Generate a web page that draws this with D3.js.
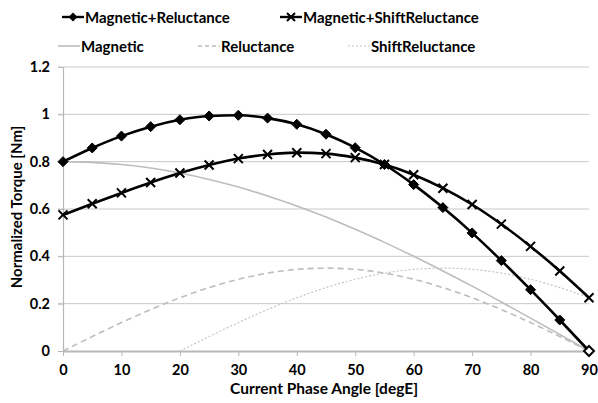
<!DOCTYPE html>
<html>
<head>
<meta charset="utf-8">
<script src="https://cdn.jsdelivr.net/npm/d3@7"></script>
<style>
  html, body { margin: 0; padding: 0; background: #fff; }
  svg text { font-family: Lato, "Open Sans", sans-serif; font-weight: bold; fill: #000; }
</style>
</head>
<body>
<svg id="chart" width="598" height="403"></svg>
<script>
// Current phase angle [degE]
const angles = [0, 5, 10, 15, 20, 25, 30, 35, 40, 45, 50, 55, 60, 65, 70, 75, 80, 85, 90];

// Normalized torque components [Nm]
const magnetic = [0.800, 0.797, 0.788, 0.773, 0.752, 0.725, 0.693, 0.655, 0.613, 0.566,
                  0.514, 0.459, 0.400, 0.338, 0.274, 0.207, 0.139, 0.070, 0.000];
const reluctance = [0.000, 0.061, 0.120, 0.175, 0.225, 0.268, 0.303, 0.329, 0.345, 0.350,
                    0.345, 0.329, 0.303, 0.268, 0.225, 0.175, 0.120, 0.061, 0.000];
// shifted reluctance is only plotted from 20 degE onwards
const shiftAngles = [20, 25, 30, 35, 40, 45, 50, 55, 60, 65, 70, 75, 80, 85, 90];
const shiftReluctance = [0.000, 0.061, 0.120, 0.175, 0.225, 0.268, 0.303, 0.329, 0.345, 0.350,
                         0.345, 0.329, 0.303, 0.268, 0.225];
const magPlusRel = [0.800, 0.858, 0.908, 0.948, 0.977, 0.993, 0.996, 0.984, 0.958, 0.916,
                    0.859, 0.788, 0.703, 0.606, 0.499, 0.382, 0.259, 0.131, 0.000];
const magPlusShift = [0.575, 0.622, 0.668, 0.712, 0.752, 0.786, 0.813, 0.830, 0.838, 0.834,
                      0.817, 0.788, 0.745, 0.688, 0.619, 0.536, 0.442, 0.338, 0.225];

const xTicks = [0, 10, 20, 30, 40, 50, 60, 70, 80, 90];
const yTicks = [0, 0.2, 0.4, 0.6, 0.8, 1, 1.2];

const svg = d3.select("#chart");
const plotLeft = 63, plotRight = 589, plotTop = 67, plotBottom = 351;

const x = d3.scaleLinear().domain([0, 90]).range([plotLeft, plotRight]);
const y = d3.scaleLinear().domain([0, 1.2]).range([plotBottom, plotTop]);

// horizontal gridlines
svg.append("g").selectAll("line").data(yTicks.filter(d => d > 0)).join("line")
  .attr("x1", plotLeft - 5).attr("x2", plotRight)
  .attr("y1", d => y(d)).attr("y2", d => y(d))
  .attr("stroke", "#c8c8c8").attr("stroke-width", 1);

// y axis
const yAxis = svg.append("g").attr("transform", `translate(${plotLeft},0)`)
  .call(d3.axisLeft(y).tickValues(yTicks).tickSize(5).tickSizeOuter(0)
        .tickFormat(d => d3.format("~g")(d)));
yAxis.select(".domain").attr("stroke", "#b8b8b8").attr("stroke-width", 1.2);
yAxis.selectAll(".tick line").attr("stroke", "#b8b8b8");
yAxis.selectAll(".tick text").attr("font-size", 14.5).attr("x", -13);

// x axis
const xAxis = svg.append("g").attr("transform", `translate(0,${plotBottom})`)
  .call(d3.axisBottom(x).tickValues(xTicks).tickSize(5).tickSizeOuter(0));
xAxis.select(".domain").attr("stroke", "#b8b8b8").attr("stroke-width", 2);
xAxis.selectAll(".tick line").attr("stroke", "#b8b8b8");
xAxis.selectAll(".tick text").attr("font-size", 14.5).attr("y", 14);

// axis titles
svg.append("text").attr("x", 324).attr("y", 394)
  .attr("text-anchor", "middle").attr("font-size", 15.5).text("Current Phase Angle [degE]");
svg.append("text").attr("transform", `translate(22,${(plotTop + plotBottom) / 2 - 2}) rotate(-90)`)
  .attr("text-anchor", "middle").attr("font-size", 15).text("Normalized Torque [Nm]");

const line = (xs, ys) => d3.line().curve(d3.curveMonotoneX)
  .x((d, i) => x(xs[i])).y(d => y(d))(ys);

// thin component curves
svg.append("path").attr("d", line(angles, magnetic))
  .attr("fill", "none").attr("stroke", "#bdbdbd").attr("stroke-width", 1.6);
svg.append("path").attr("d", line(angles, reluctance))
  .attr("fill", "none").attr("stroke", "#bdbdbd").attr("stroke-width", 1.6)
  .attr("stroke-dasharray", "6,4");
svg.append("path").attr("d", line(shiftAngles, shiftReluctance))
  .attr("fill", "none").attr("stroke", "#c4c4c4").attr("stroke-width", 1.2)
  .attr("stroke-dasharray", "2,2");

// summed curves with markers
svg.append("path").attr("d", line(angles, magPlusRel))
  .attr("fill", "none").attr("stroke", "#000").attr("stroke-width", 2.6);
svg.append("path").attr("d", line(angles, magPlusShift))
  .attr("fill", "none").attr("stroke", "#000").attr("stroke-width", 2.6);

const diamond = (cx, cy, r) => `M${cx},${cy - r}L${cx + r},${cy}L${cx},${cy + r}L${cx - r},${cy}Z`;
const cross = (cx, cy, r) => `M${cx - r},${cy - r}L${cx + r},${cy + r}M${cx - r},${cy + r}L${cx + r},${cy - r}`;

svg.append("g").selectAll("path").data(magPlusRel).join("path")
  .attr("d", (d, i) => diamond(x(angles[i]), y(d), 5))
  .attr("fill", (d, i) => i === magPlusRel.length - 1 ? "#fff" : "#000")
  .attr("stroke", "#000").attr("stroke-width", (d, i) => i === magPlusRel.length - 1 ? 2 : 1);
svg.append("g").selectAll("path").data(magPlusShift).join("path")
  .attr("d", (d, i) => cross(x(angles[i]), y(d), 4.5))
  .attr("fill", "none").attr("stroke", "#000").attr("stroke-width", 2);

// legend
const legend = svg.append("g");
function legendItem(lx, ly, label, style) {
  const g = legend.append("g");
  g.append("line").attr("x1", lx).attr("x2", lx + 22).attr("y1", ly).attr("y2", ly)
    .attr("stroke", style.stroke).attr("stroke-width", style.width)
    .attr("stroke-dasharray", style.dash || null);
  if (style.marker === "diamond") {
    g.append("path").attr("d", diamond(lx + 11, ly, 4.5)).attr("fill", "#000");
  } else if (style.marker === "cross") {
    g.append("path").attr("d", cross(lx + 11, ly, 4)).attr("fill", "none")
      .attr("stroke", "#000").attr("stroke-width", 2);
  }
  g.append("text").attr("x", lx + 23).attr("y", ly + 5.5).attr("font-size", 15).text(label);
}
legendItem(62, 17, "Magnetic+Reluctance", { stroke: "#000", width: 2.4, marker: "diamond" });
legendItem(280, 17, "Magnetic+ShiftReluctance", { stroke: "#000", width: 2.4, marker: "cross" });
legendItem(58, 46, "Magnetic", { stroke: "#bdbdbd", width: 1.6 });
legendItem(198, 46, "Reluctance", { stroke: "#bdbdbd", width: 1.6, dash: "4,3" });
legendItem(348, 46, "ShiftReluctance", { stroke: "#c4c4c4", width: 1.2, dash: "2,2" });
</script>
</body>
</html>
